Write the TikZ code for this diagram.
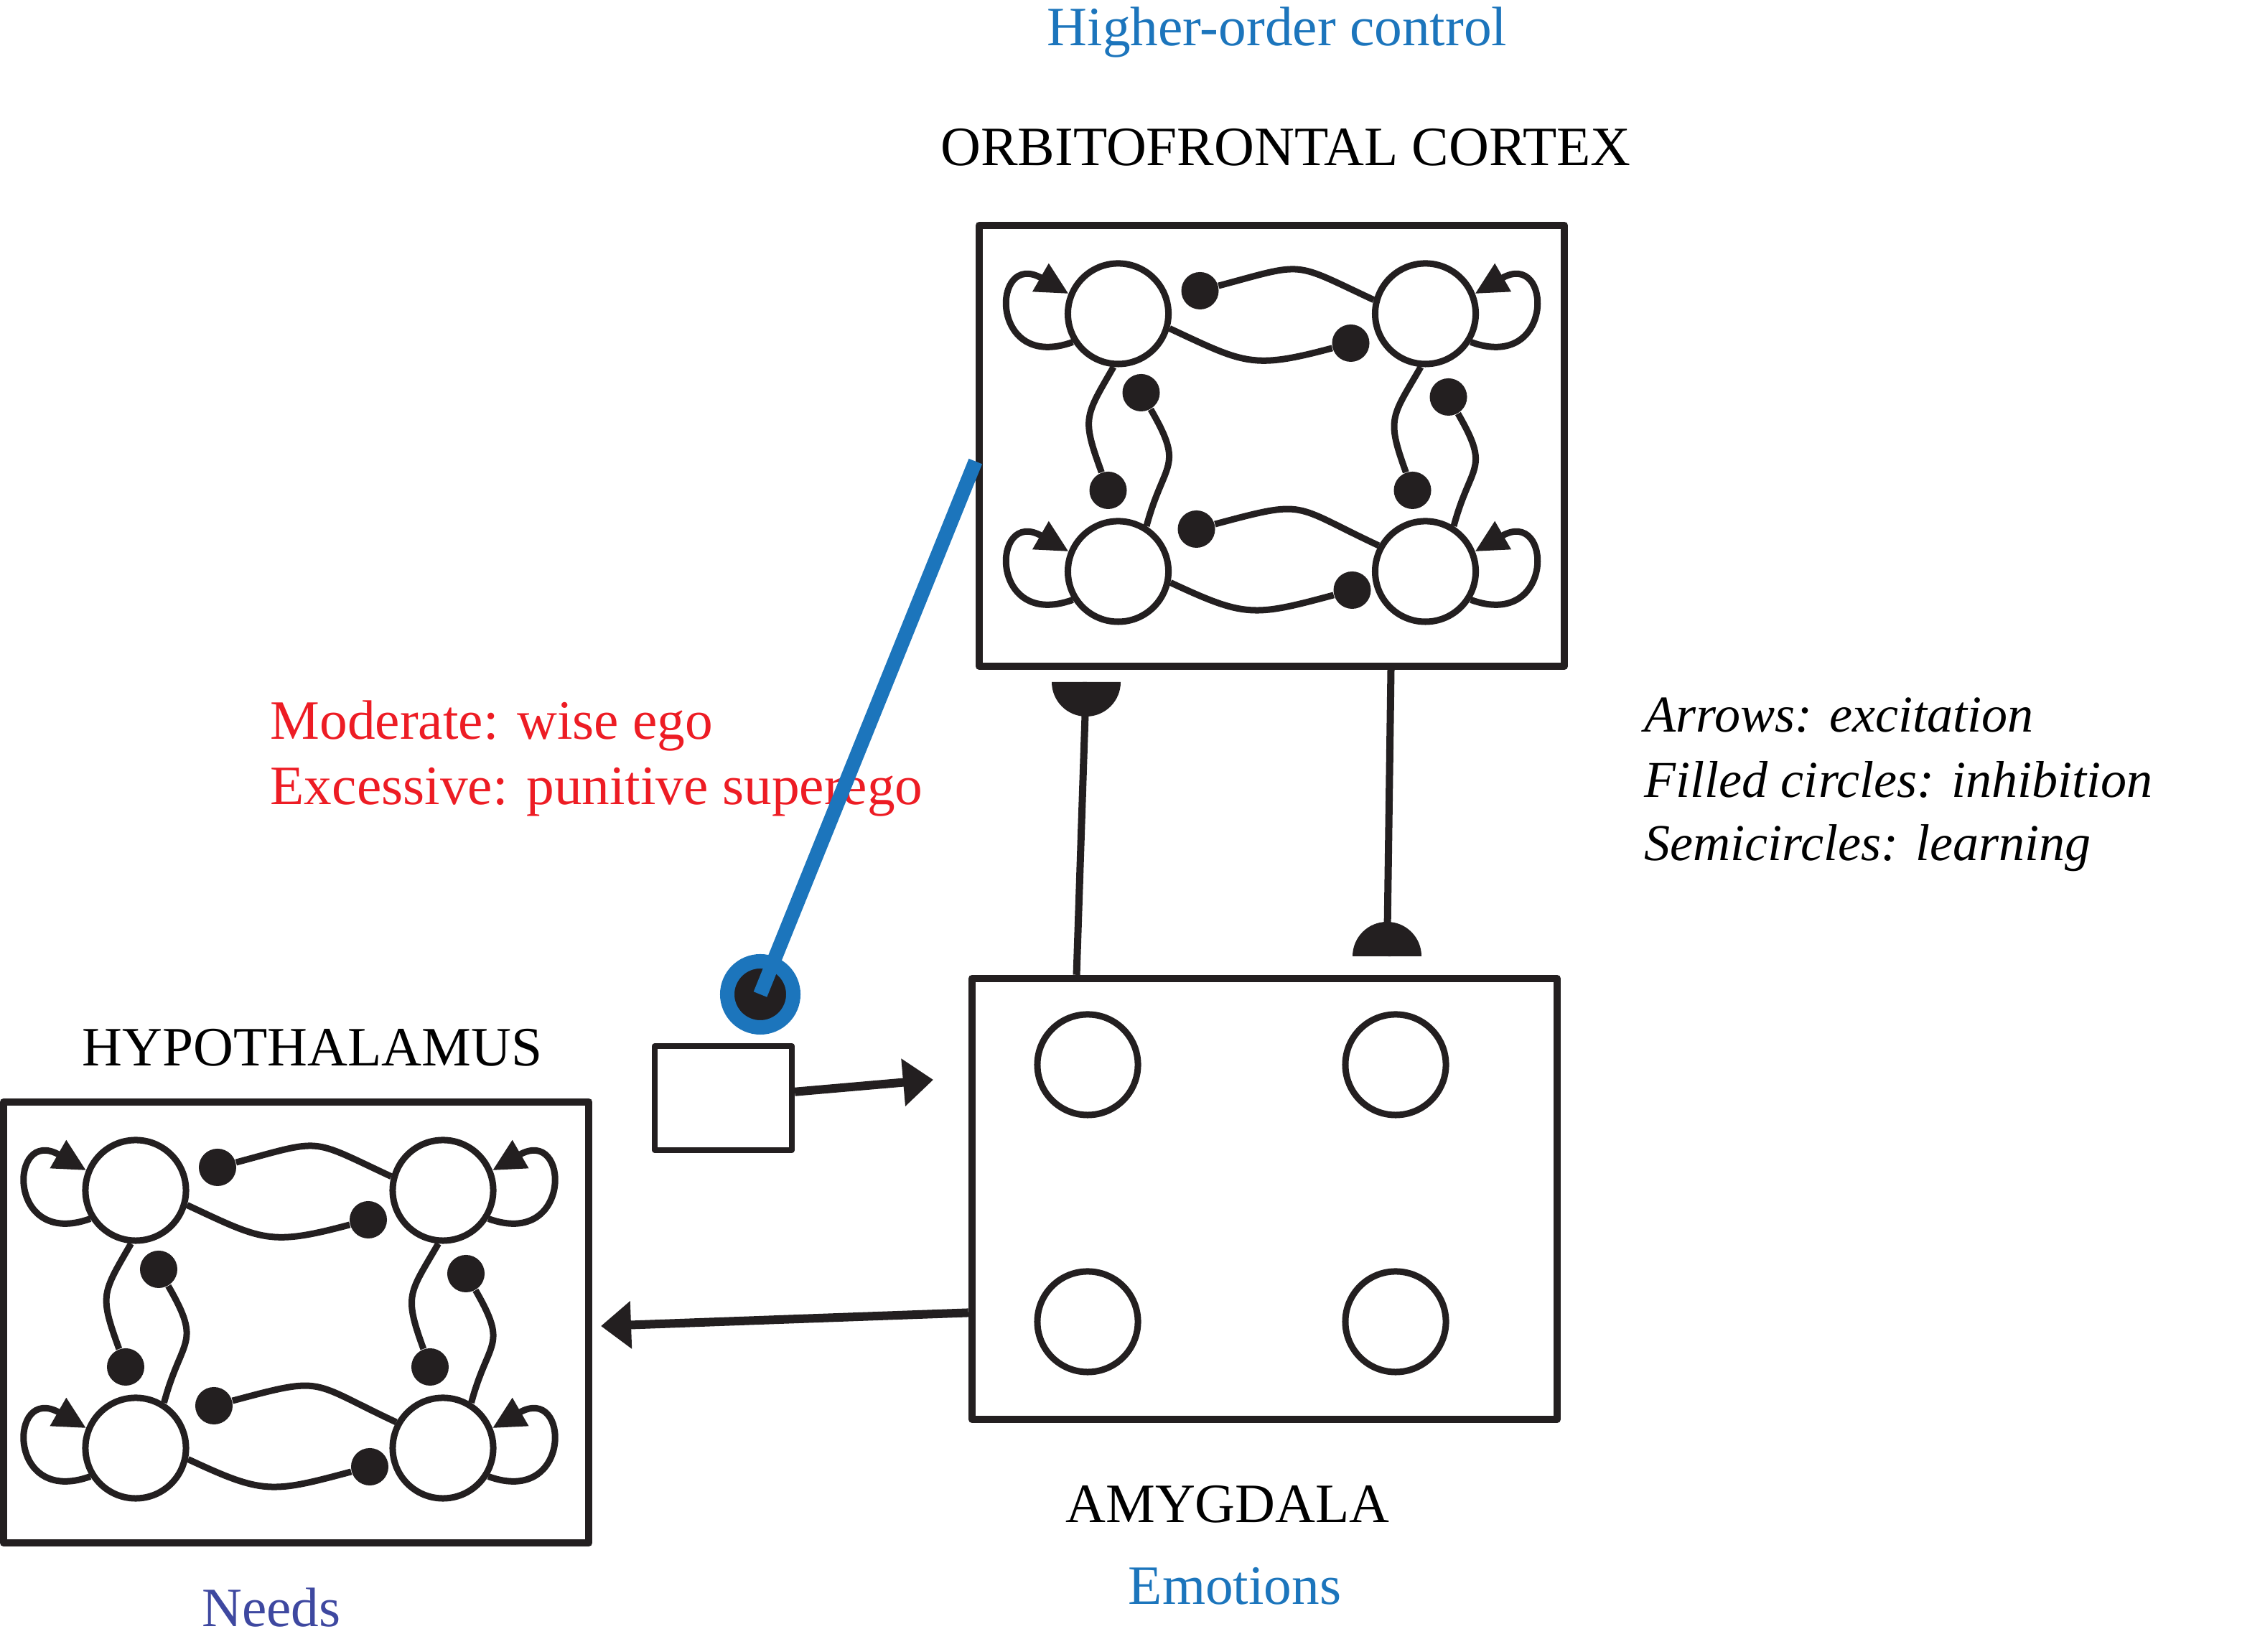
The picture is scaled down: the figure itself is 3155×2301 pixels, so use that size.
\documentclass[tikz,border=0pt]{standalone}
\usepackage{fontspec}
\setmainfont{Liberation Serif}
\usetikzlibrary{arrows.meta}

\definecolor{ink}{RGB}{35,31,32}
\definecolor{ctrlblue}{RGB}{28,117,188}
\definecolor{needblue}{RGB}{62,72,160}
\definecolor{egored}{RGB}{237,28,36}

\tikzset{
  region/.style={draw=ink, line width=1mm, line join=round, minimum width=8.15cm, minimum height=6.14cm, inner sep=0pt},
  nrn/.style={circle, draw=ink, line width=0.9mm, minimum size=1.4cm, inner sep=0pt},
  inh/.style={circle, fill=ink, minimum size=0.52cm, inner sep=0pt},
  wire/.style={draw=ink, line width=0.9mm},
  selfexc/.style={wire, -{Triangle[length=4.5mm,width=4.3mm]}},
  proj/.style={draw=ink, line width=1.2mm, -{Triangle[length=4.2mm,width=6.4mm]}},
  lbl/.style={font=\fontsize{22}{26}\selectfont, inner sep=0pt, anchor=base},
  leg/.style={font=\fontsize{20.5}{24}\selectfont\itshape, inner sep=0pt, anchor=base west}
}

\begin{document}
\begin{tikzpicture}[x=0.01cm, y=0.01cm]
	\useasboundingbox (0,0) rectangle (3155,2301);

	\node[lbl, text=ctrlblue] (hoc) at (1779,2237) {Higher-order control};
	\node[lbl] (ofclab) at (1791,2070) {ORBITOFRONTAL CORTEX};
	\node[lbl, text=egored, anchor=base west] (moder) at (376,1271) {Moderate: wise ego};
	\node[lbl, text=egored, anchor=base west] (excess) at (376,1180) {Excessive: punitive superego};
	\node[leg] (leg1) at (2290,1281) {Arrows: excitation};
	\node[leg] (leg2) at (2290,1190) {Filled circles: inhibition};
	\node[leg] (leg3) at (2290,1102) {Semicircles: learning};
	\node[lbl] (hyplab) at (435,816) {HYPOTHALAMUS};
	\node[lbl] (amylab) at (1710,180) {AMYGDALA};
	\node[lbl, text=ctrlblue] (emo) at (1720,66) {Emotions};
	\node[lbl, text=needblue] (needs) at (378,35) {Needs};

	\node[region] (ofc) at (1771.5,1680) {};
	\node[region] (amyg) at (1761.5,631) {};
	\node[region] (hyp) at (412.5,459) {};
	\node[draw=ink, line width=0.8mm, line join=round, minimum width=1.91cm, minimum height=1.45cm, inner sep=0pt] (sbox) at (1007.5,771.5) {};

	\foreach \p/\cx/\cy in {o/1771.5/1680, h/403/459} {
	\begin{scope}[shift={(\cx,\cy)}]
		\node[nrn] (\p-a) at (-214,184) {};
		\node[nrn] (\p-b) at (214,184) {};
		\node[nrn] (\p-c) at (-214,-175) {};
		\node[nrn] (\p-d) at (214,-175) {};
		\node[inh] (\p-ia) at (-100,216) {};
		\node[inh] (\p-ib) at (110,143) {};
		\node[inh] (\p-ic) at (-105,-116) {};
		\node[inh] (\p-id) at (112,-201) {};
		\node[inh] (\p-ie) at (-228,-62) {};
		\node[inh] (\p-if) at (-182,74) {};
		\node[inh] (\p-ig) at (196,-62) {};
		\node[inh] (\p-ih) at (246,68) {};

		\draw[wire] (\p-b.165) to[out=155,in=15,looseness=1.5] (\p-ia);
		\draw[wire] (\p-a.344) to[out=-25,in=195,looseness=1.3] (\p-ib);
		\draw[wire] (\p-d.151) to[out=155,in=15,looseness=1.5] (\p-ic);
		\draw[wire] (\p-c.348) to[out=-25,in=195,looseness=1.3] (\p-id);
		\draw[wire] (\p-a.265) to[out=240,in=110,looseness=1.4] (\p-ie);
		\draw[wire] (\p-if) to[out=-60,in=75,looseness=1.5] (\p-c.58);
		\draw[wire] (\p-b.265) to[out=240,in=110,looseness=1.4] (\p-ig);
		\draw[wire] (\p-ih) to[out=-60,in=75,looseness=1.5] (\p-d.58);

		\draw[selfexc] (\p-a.212) .. controls +(200:125) and +(150:125) .. (\p-a.158);
		\draw[selfexc] (\p-c.212) .. controls +(200:125) and +(150:125) .. (\p-c.158);
		\draw[selfexc] (\p-b.328) .. controls +(-20:125) and +(30:125) .. (\p-b.22);
		\draw[selfexc] (\p-d.328) .. controls +(-20:125) and +(30:125) .. (\p-d.22);
	\end{scope}
	}

	\node[nrn] (ma) at (1515,818) {};
	\node[nrn] (mb) at (1944,818) {};
	\node[nrn] (mc) at (1515,460) {};
	\node[nrn] (md) at (1944,460) {};

	\coordinate (lrnA) at (1513,1351);
	\coordinate (lrnB) at (1932,969);
	\draw[ink, line width=1mm] (amyg.130) -- (lrnA);
	\draw[ink, line width=1mm] (ofc.298) -- (lrnB);
	\fill[ink] (lrnA) ++(-48,0) arc[start angle=180, end angle=360, radius=48] -- cycle;
	\fill[ink] (lrnB) ++(-48,0) arc[start angle=180, end angle=0, radius=48] -- cycle;

	\coordinate (atip) at (1300,797);
	\coordinate (htip) at (837,454);
	\draw[proj] (sbox.5) -- (atip);
	\draw[proj] (amyg.201) -- (htip);

	\node[circle, fill=ink, draw=ctrlblue, line width=2mm, minimum size=0.92cm, inner sep=0pt] (bdot) at (1059,916) {};
	\draw[ctrlblue, line width=2mm] (bdot.center) -- (ofc.183);
\end{tikzpicture}
\end{document}
